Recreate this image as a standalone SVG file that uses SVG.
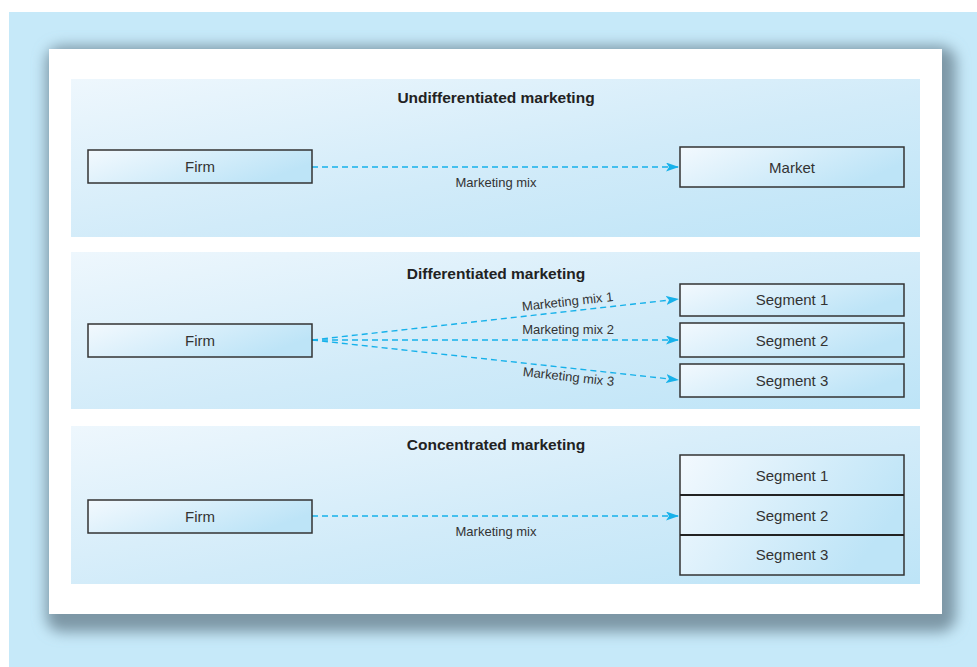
<svg xmlns="http://www.w3.org/2000/svg" width="977" height="667" viewBox="0 0 977 667">
  <defs>
    <linearGradient id="panelGrad" x1="0" y1="0" x2="1" y2="1">
      <stop offset="0" stop-color="#eef7fd"/>
      <stop offset="0.55" stop-color="#d1ebf9"/>
      <stop offset="1" stop-color="#bde4f7"/>
    </linearGradient>
    <linearGradient id="boxGrad" x1="0" y1="0" x2="1" y2="0.4">
      <stop offset="0" stop-color="#f3f9fe"/>
      <stop offset="1" stop-color="#bde4f7"/>
    </linearGradient>
    <filter id="soft" x="-10%" y="-10%" width="120%" height="120%">
      <feGaussianBlur stdDeviation="7"/>
    </filter>
    <marker id="arrow" viewBox="0 0 13 9" refX="13" refY="4.5" markerWidth="13" markerHeight="9" markerUnits="userSpaceOnUse" orient="auto">
      <path d="M0,0 L13,4.5 L0,9 L3,4.5 Z" fill="#16b1ea"/>
    </marker>
    <style>
      .panel { fill: url(#panelGrad); }
      .box { fill: url(#boxGrad); stroke: #333; stroke-width: 1.5; }
      .title { font-family: "Liberation Sans", Arial, sans-serif; font-size: 15.5px; font-weight: bold; fill: #222; text-anchor: middle; }
      .label { font-family: "Liberation Sans", Arial, sans-serif; font-size: 15px; fill: #333; text-anchor: middle; }
      .mix { font-family: "Liberation Sans", Arial, sans-serif; font-size: 13px; fill: #333; text-anchor: middle; }
      .flow { stroke: #16b1ea; stroke-width: 1.4; stroke-dasharray: 6 4; fill: none; marker-end: url(#arrow); }
      .divider { stroke: #222; stroke-width: 2; }
    </style>
  </defs>

  <!-- page background -->
  <rect x="0" y="0" width="977" height="667" fill="#ffffff"/>
  <rect x="9" y="12" width="968" height="655" fill="#c6e9f9"/>

  <!-- card shadow and card -->
  <rect x="46" y="46" width="910" height="586" rx="16" fill="#7d97a6" filter="url(#soft)"/>
  <rect x="49" y="49" width="893" height="565" fill="#ffffff"/>

  <!-- section panels -->
  <rect class="panel" x="71" y="79" width="849" height="158"/>
  <rect class="panel" x="71" y="252" width="849" height="157"/>
  <rect class="panel" x="71" y="426" width="849" height="158"/>

  <!-- section titles -->
  <text class="title" x="496" y="103">Undifferentiated marketing</text>
  <text class="title" x="496" y="279">Differentiated marketing</text>
  <text class="title" x="496" y="450">Concentrated marketing</text>

  <!-- connectors -->
  <g id="connectors">
    <line class="flow" x1="312" y1="167" x2="679" y2="167"/>
    <text class="mix" x="496" y="187">Marketing mix</text>

    <line class="flow" x1="312" y1="340" x2="679" y2="299"/>
    <line class="flow" x1="312" y1="340" x2="679" y2="340"/>
    <line class="flow" x1="312" y1="340" x2="679" y2="380"/>
    <text class="mix" x="568" y="306" transform="rotate(-6.3 568 306)">Marketing mix 1</text>
    <text class="mix" x="568" y="334">Marketing mix 2</text>
    <text class="mix" x="568" y="381" transform="rotate(6.3 568 381)">Marketing mix 3</text>

    <line class="flow" x1="312" y1="516" x2="679" y2="516"/>
    <text class="mix" x="496" y="536">Marketing mix</text>
  </g>

  <!-- undifferentiated -->
  <g id="firm-undifferentiated">
    <rect class="box" x="88" y="150" width="224" height="33"/>
    <text class="label" x="200" y="172">Firm</text>
  </g>
  <g id="market">
    <rect class="box" x="680" y="147" width="224" height="40"/>
    <text class="label" x="792" y="173">Market</text>
  </g>

  <!-- differentiated -->
  <g id="firm-differentiated">
    <rect class="box" x="88" y="324" width="224" height="33"/>
    <text class="label" x="200" y="346">Firm</text>
  </g>
  <g id="segment-d1">
    <rect class="box" x="680" y="284" width="224" height="32"/>
    <text class="label" x="792" y="305">Segment 1</text>
  </g>
  <g id="segment-d2">
    <rect class="box" x="680" y="323" width="224" height="34"/>
    <text class="label" x="792" y="346">Segment 2</text>
  </g>
  <g id="segment-d3">
    <rect class="box" x="680" y="364" width="224" height="33"/>
    <text class="label" x="792" y="386">Segment 3</text>
  </g>

  <!-- concentrated -->
  <g id="firm-concentrated">
    <rect class="box" x="88" y="500" width="224" height="33"/>
    <text class="label" x="200" y="522">Firm</text>
  </g>
  <g id="segment-stack">
    <rect class="box" x="680" y="455" width="224" height="120"/>
    <line class="divider" x1="680" y1="495" x2="904" y2="495"/>
    <line class="divider" x1="680" y1="535" x2="904" y2="535"/>
    <text class="label" x="792" y="481">Segment 1</text>
    <text class="label" x="792" y="521">Segment 2</text>
    <text class="label" x="792" y="560">Segment 3</text>
  </g>
</svg>
